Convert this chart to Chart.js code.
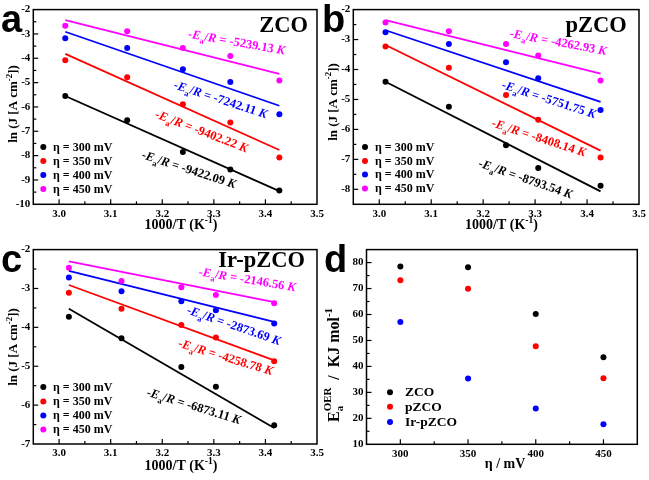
<!DOCTYPE html>
<html><head><meta charset="utf-8">
<script src="https://cdn.jsdelivr.net/npm/chart.js@4.4.0/dist/chart.umd.min.js"></script>
<style>
html,body{margin:0;padding:0;background:#fff;}
body{width:649px;height:480px;position:relative;overflow:hidden;}
canvas{position:absolute;}
</style></head><body>
<canvas id="pa" width="330" height="240" style="left:0;top:0"></canvas>
<canvas id="pb" width="329" height="240" style="left:320px;top:0"></canvas>
<canvas id="pc" width="330" height="240" style="left:0;top:240px"></canvas>
<canvas id="pd" width="329" height="240" style="left:320px;top:240px"></canvas>
<script>
// ---------- data ----------
const seriesNames = ['η = 300 mV', 'η = 350 mV', 'η = 400 mV', 'η = 450 mV'];
const seriesColors = ['#000000', '#ff0000', '#0000ff', '#ff00ff'];

// Panel a: ZCO
const aX = [3.012, 3.132, 3.240, 3.332, 3.427];
const a300 = [-5.55, -6.55, -7.85, -8.57, -9.43];
const a350 = [-4.08, -4.78, -5.89, -6.64, -8.08];
const a400 = [-3.18, -3.58, -4.45, -4.97, -6.30];
const a450 = [-2.66, -2.89, -3.58, -3.91, -4.91];
const aFitX = [3.012, 3.427];
const aFit300 = [-5.55, -9.46];
const aFit350 = [-3.82, -7.77];
const aFit400 = [-2.91, -5.95];
const aFit450 = [-2.43, -4.64];
const aSlopes = ['-9422.09', '-9402.22', '-7242.11', '-5239.13'];

// Panel b: pZCO
const bX = [3.012, 3.134, 3.244, 3.306, 3.426];
const b300 = [-4.41, -5.24, -6.53, -7.29, -7.88];
const b350 = [-3.23, -3.94, -4.85, -5.68, -6.94];
const b400 = [-2.76, -3.15, -3.76, -4.29, -5.35];
const b450 = [-2.43, -2.72, -3.15, -3.53, -4.37];
const bFitX = [3.012, 3.426];
const bFit300 = [-4.41, -8.07];
const bFit350 = [-3.18, -6.71];
const bFit400 = [-2.69, -5.08];
const bFit450 = [-2.35, -4.14];
const bSlopes = ['-8793.54', '-8408.14', '-5751.75', '-4262.93'];

// Panel c: Ir-pZCO
const cX = [3.019, 3.121, 3.237, 3.304, 3.417];
const c300 = [-3.73, -4.28, -5.02, -5.53, -6.52];
const c350 = [-3.11, -3.52, -3.94, -4.26, -4.87];
const c400 = [-2.72, -3.07, -3.33, -3.56, -3.90];
const c450 = [-2.47, -2.81, -2.97, -3.17, -3.38];
const cFitX = [3.019, 3.417];
const cFit300 = [-3.52, -6.59];
const cFit350 = [-2.91, -4.85];
const cFit400 = [-2.55, -3.86];
const cFit450 = [-2.30, -3.35];
const cSlopes = ['-6873.11', '-4258.78', '-2873.69', '-2146.56'];

// Panel d: activation energies
const dNames = ['ZCO', 'pZCO', 'Ir-pZCO'];
const dColors = ['#000000', '#ff0000', '#0000ff'];
const dEta = [300, 350, 400, 450];
const dZCO = [78.5, 78.2, 60.2, 43.5];
const dPZCO = [73.2, 69.9, 47.8, 35.4];
const dIr = [57.1, 35.3, 23.8, 17.7];

// tick labels
const xTicksT = [3.0, 3.1, 3.2, 3.3, 3.4, 3.5];
const yTicksA = [-2, -3, -4, -5, -6, -7, -8, -9, -10];
const yTicksB = [-2, -3, -4, -5, -6, -7, -8];
const yTicksC = [-2, -3, -4, -5, -6, -7];
const xTicksD = [300, 350, 400, 450];
const yTicksD = [10, 20, 30, 40, 50, 60, 70, 80];

// ---------- helpers ----------
const F = 'Liberation Serif';
Chart.defaults.font.family = F;
Chart.defaults.color = '#000';

function rich(ctx, parts, x, y, size, angle, align, color) {
  ctx.save();
  ctx.translate(x, y);
  ctx.rotate(angle * Math.PI / 180);
  ctx.fillStyle = color;
  ctx.textBaseline = 'alphabetic';
  const small = size * 0.68;
  const fnt = (s, it) => (it ? 'italic ' : '') + 'bold ' + s + 'px "' + F + '"';
  let w = 0;
  const segs = parts.map(p => {
    let m;
    if (p.stack) {
      ctx.font = fnt(small, p.it);
      m = Math.max(ctx.measureText(p.stack[0]).width, ctx.measureText(p.stack[1]).width);
    } else {
      ctx.font = fnt((p.sub || p.sup) ? small : size, p.it);
      m = ctx.measureText(p.t).width;
    }
    const s = {p, x: w}; w += m; return s;
  });
  const x0 = align === 'left' ? 0 : align === 'right' ? -w : -w / 2;
  const by = size * 0.35;
  for (const s of segs) {
    const p = s.p;
    if (p.stack) {
      ctx.font = fnt(small, p.it);
      ctx.fillText(p.stack[0], x0 + s.x, by + size * 0.3);
      ctx.fillText(p.stack[1], x0 + s.x, by - size * 0.45);
    } else {
      ctx.font = fnt((p.sub || p.sup) ? small : size, p.it);
      const dy = p.sub ? size * 0.3 : p.sup ? -size * 0.42 : 0;
      ctx.fillText(p.t, x0 + s.x, by + dy);
    }
  }
  ctx.restore();
}

function eaParts(v) {
  return [{t: '-'}, {t: 'E', it: true}, {t: 'a', sub: true}, {t: '/'}, {t: 'R', it: true}, {t: ' = ' + v + ' '}, {t: 'K', it: true}];
}

const deco = {
  id: 'deco',
  afterDraw(chart, args, o) {
    const ctx = chart.ctx, ca = chart.chartArea;
    const xs = chart.scales.x, ys = chart.scales.y;
    ctx.save();
    // frame
    ctx.strokeStyle = '#000';
    ctx.lineWidth = 1.5;
    ctx.strokeRect(ca.left, ca.top, ca.right - ca.left, ca.bottom - ca.top);
    // inner ticks
    ctx.lineWidth = 1.2;
    const seg = (x1, y1, x2, y2) => { ctx.beginPath(); ctx.moveTo(x1, y1); ctx.lineTo(x2, y2); ctx.stroke(); };
    const eps = 1e-6;
    for (let v = Math.ceil(xs.min / o.xMinor - eps) * o.xMinor; v <= xs.max + eps; v += o.xMinor) {
      const p = xs.getPixelForValue(v);
      const major = Math.abs(v / o.xMajor - Math.round(v / o.xMajor)) < 1e-4;
      if (p <= ca.left + 1 || p >= ca.right - 1) continue;
      seg(p, ca.bottom, p, ca.bottom - (major ? 5 : 3));
    }
    for (let v = Math.ceil(ys.min / o.yMinor - eps) * o.yMinor; v <= ys.max + eps; v += o.yMinor) {
      const p = ys.getPixelForValue(v);
      const major = Math.abs(v / o.yMajor - Math.round(v / o.yMajor)) < 1e-4;
      if (p <= ca.top + 1 || p >= ca.bottom - 1) continue;
      seg(ca.left, p, ca.left + (major ? 5 : 3), p);
    }
    // legend
    const ds = chart.data.datasets.filter(d => !d.fit);
    ds.forEach((d, i) => {
      const ly = o.legY[i];
      ctx.fillStyle = d.backgroundColor;
      ctx.beginPath(); ctx.arc(o.legX, ly, 3, 0, Math.PI * 2); ctx.fill();
      ctx.fillStyle = '#000';
      ctx.font = 'bold ' + o.legSize + 'px "' + F + '"';
      ctx.textBaseline = 'middle';
      ctx.textAlign = 'left';
      ctx.fillText(d.label, o.legTX, ly + 0.5);
    });
    // annotations
    (o.notes || []).forEach(n => rich(ctx, n.parts, n.x, n.y, n.size, n.a, 'center', n.c));
    // axis titles
    o.titles.forEach(t => rich(ctx, t.parts, t.x, t.y, t.size, t.a, 'center', '#000'));
    // panel letter
    ctx.fillStyle = '#000';
    ctx.textBaseline = 'alphabetic';
    ctx.textAlign = 'left';
    ctx.font = 'bold 38px "Liberation Sans"';
    ctx.fillText(o.letter, o.letterX, o.letterY);
    if (o.name) {
      ctx.font = 'bold 22.5px "' + F + '"';
      ctx.textAlign = 'right';
      ctx.fillText(o.name, o.nameX, o.nameY);
    }
    ctx.restore();
  }
};

const pts = (xs, ys) => xs.map((x, i) => ({x, y: ys[i]}));

function scatterSet(label, color, xs, ys) {
  return {label, data: pts(xs, ys), backgroundColor: color, borderColor: color, pointRadius: 3, pointBorderWidth: 0, showLine: false};
}
function fitSet(color, xs, ys) {
  return {fit: true, data: pts(xs, ys), borderColor: color, backgroundColor: color, borderWidth: 1.8, pointRadius: 0, showLine: true, fill: false};
}

function makePanel(id, c) {
  const tf = {size: 11, weight: 'bold', family: F};
  return new Chart(document.getElementById(id), {
    type: 'scatter',
    data: {datasets: c.datasets},
    options: {
      responsive: false, animation: false, events: [],
      layout: {padding: c.pad},
      plugins: {legend: {display: false}, tooltip: {enabled: false}, deco: c.deco},
      scales: {
        x: {
          type: 'linear', min: c.xMin, max: c.xMax,
          grid: {display: false, drawTicks: false}, border: {display: false},
          ticks: {padding: 3, color: '#000', font: tf, autoSkip: false, maxRotation: 0, callback: c.xFmt},
          afterBuildTicks: s => { s.ticks = c.xTicks.map(v => ({value: v})); },
          afterFit: s => { s.height = c.xH; }
        },
        y: {
          type: 'linear', min: c.yMin, max: c.yMax,
          grid: {display: false, drawTicks: false}, border: {display: false},
          ticks: {padding: 3, color: '#000', font: tf, autoSkip: false, callback: v => String(v)},
          afterBuildTicks: s => { s.ticks = c.yTicks.map(v => ({value: v})); },
          afterFit: s => { s.width = c.yW; }
        }
      }
    },
    plugins: [deco]
  });
}

const lnTitle = [{t: 'ln (J [A cm'}, {t: '-2', sup: true}, {t: '])'}];
const tTitle = [{t: '1000/T (K'}, {t: '-1', sup: true}, {t: ')'}];

function kinetic(X, s300, s350, s400, s450, FX, f300, f350, f400, f450) {
  const sets = [s300, s350, s400, s450].map((s, i) => scatterSet(seriesNames[i], seriesColors[i], X, s));
  const fits = [f300, f350, f400, f450].map((s, i) => fitSet(seriesColors[i], FX, s));
  return sets.concat(fits);
}

const NS = 12.5;

// Panel a
makePanel('pa', {
  datasets: kinetic(aX, a300, a350, a400, a450, aFitX, aFit300, aFit350, aFit400, aFit450),
  pad: {top: 7.3, right: 13, bottom: 0, left: 0},
  xMin: 2.95, xMax: 3.5, yMin: -10, yMax: -2, xTicks: xTicksT, yTicks: yTicksA,
  xFmt: v => v.toFixed(1), xH: 35.7, yW: 33.3,
  deco: {
    xMajor: 0.1, xMinor: 0.05, yMajor: 1, yMinor: 0.5,
    legX: 43.3, legTX: 53, legY: [147, 161, 175, 189], legSize: 12,
    notes: [
      {parts: eaParts(aSlopes[3]), x: 236.7, y: 41.7, a: 10, size: NS, c: seriesColors[3]},
      {parts: eaParts(aSlopes[2]), x: 220.7, y: 99, a: 18, size: NS, c: seriesColors[2]},
      {parts: eaParts(aSlopes[1]), x: 201.7, y: 130.7, a: 21, size: NS, c: seriesColors[1]},
      {parts: eaParts(aSlopes[0]), x: 189, y: 169, a: 18, size: NS, c: seriesColors[0]}
    ],
    titles: [
      {parts: lnTitle, x: 12.5, y: 104, a: -90, size: 13},
      {parts: tTitle, x: 181, y: 224, a: 0, size: 14}
    ],
    letter: 'a', letterX: 1, letterY: 32, name: 'ZCO', nameX: 308, nameY: 31.7
  }
});

// Panel b
makePanel('pb', {
  datasets: kinetic(bX, b300, b350, b400, b450, bFitX, bFit300, bFit350, bFit400, bFit450),
  pad: {top: 7.8, right: 10, bottom: 0, left: 0},
  xMin: 2.95, xMax: 3.5, yMin: -8.5, yMax: -2, xTicks: xTicksT, yTicks: yTicksB,
  xFmt: v => v.toFixed(1), xH: 35.7, yW: 33.3,
  deco: {
    xMajor: 0.1, xMinor: 0.05, yMajor: 1, yMinor: 0.5,
    legX: 45, legTX: 55, legY: [147, 161, 174.5, 188.5], legSize: 12,
    notes: [
      {parts: eaParts(bSlopes[3]), x: 238.3, y: 41.7, a: 10.5, size: NS, c: seriesColors[3]},
      {parts: eaParts(bSlopes[2]), x: 229, y: 99, a: 18, size: NS, c: seriesColors[2]},
      {parts: eaParts(bSlopes[1]), x: 219, y: 137.3, a: 18, size: NS, c: seriesColors[1]},
      {parts: eaParts(bSlopes[0]), x: 205.7, y: 178.3, a: 19, size: NS, c: seriesColors[0]}
    ],
    titles: [
      {parts: lnTitle, x: 12, y: 102, a: -90, size: 13},
      {parts: tTitle, x: 181.5, y: 224, a: 0, size: 14}
    ],
    letter: 'b', letterX: 2, letterY: 32, name: 'pZCO', nameX: 306.7, nameY: 31.7
  }
});

// Panel c
makePanel('pc', {
  datasets: kinetic(cX, c300, c350, c400, c450, cFitX, cFit300, cFit350, cFit400, cFit450),
  pad: {top: 6.7, right: 13, bottom: 0, left: 0},
  xMin: 2.95, xMax: 3.5, yMin: -7, yMax: -2, xTicks: xTicksT, yTicks: yTicksC,
  xFmt: v => v.toFixed(1), xH: 36, yW: 33.3,
  deco: {
    xMajor: 0.1, xMinor: 0.05, yMajor: 1, yMinor: 0.5,
    legX: 43.3, legTX: 53, legY: [147, 161.5, 175.5, 189.5], legSize: 12,
    notes: [
      {parts: eaParts(cSlopes[3]), x: 247.3, y: 39, a: 9.3, size: NS, c: seriesColors[3]},
      {parts: eaParts(cSlopes[2]), x: 234, y: 85, a: 19, size: NS, c: seriesColors[2]},
      {parts: eaParts(cSlopes[1]), x: 225.7, y: 116.7, a: 17, size: NS, c: seriesColors[1]},
      {parts: eaParts(cSlopes[0]), x: 194, y: 165.7, a: 17, size: NS, c: seriesColors[0]}
    ],
    titles: [
      {parts: lnTitle, x: 12.5, y: 107, a: -90, size: 13},
      {parts: tTitle, x: 181, y: 225, a: 0, size: 14}
    ],
    letter: 'c', letterX: 1, letterY: 32, name: 'Ir-pZCO', nameX: 305, nameY: 26.7
  }
});

// Panel d
const dSets = [dZCO, dPZCO, dIr].map((s, i) => scatterSet(dNames[i], dColors[i], dEta, s));
makePanel('pd', {
  datasets: dSets,
  pad: {top: 5, right: 11.7, bottom: 0, left: 0},
  xMin: 275, xMax: 475, yMin: 10, yMax: 85, xTicks: xTicksD, yTicks: yTicksD,
  xFmt: v => String(v), xH: 35.7, yW: 46.5,
  deco: {
    xMajor: 50, xMinor: 25, yMajor: 10, yMinor: 5,
    legX: 70, legTX: 85, legY: [152.3, 166.7, 182], legSize: 13.5,
    notes: [],
    titles: [
      {parts: [{t: 'E'}, {stack: ['a', 'OER']}, {t: '  /  KJ mol'}, {t: '-1', sup: true}], x: 13, y: 125, a: -90, size: 16},
      {parts: [{t: 'η / mV'}], x: 185, y: 223, a: 0, size: 14}
    ],
    letter: 'd', letterX: 4, letterY: 32
  }
});
</script>
</body></html>
